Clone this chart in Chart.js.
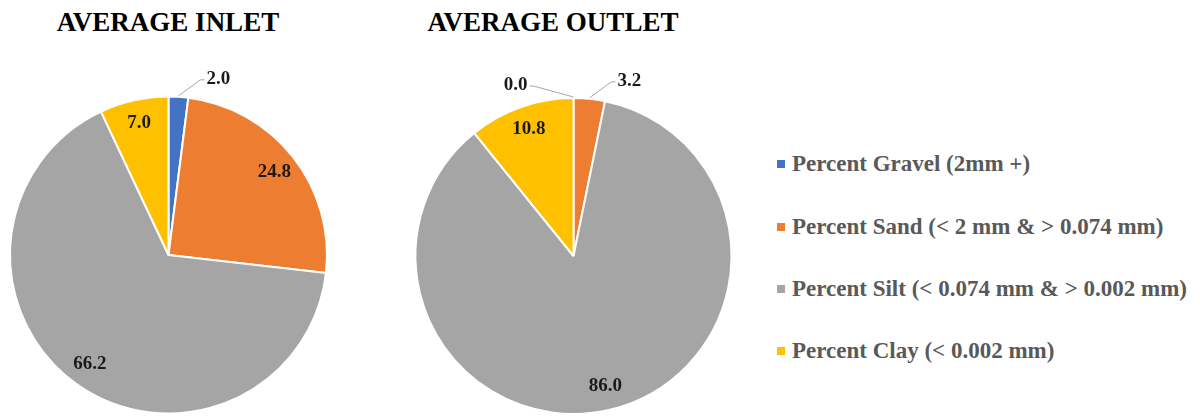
<!DOCTYPE html>
<html>
<head>
<meta charset="utf-8">
<script src="https://cdn.jsdelivr.net/npm/chart.js@4.4.1/dist/chart.umd.min.js"></script>
<style>
  html, body { margin: 0; padding: 0; background: #fff; }
  #wrap { position: relative; width: 1200px; height: 418px; overflow: hidden; font-family: "Liberation Serif", "Times New Roman", serif; }
  .box { position: absolute; top: 0; }
  .title { position: absolute; top: 7px; font-weight: bold; font-size: 27px; color: #000; white-space: nowrap; transform: translateX(-50%); }
  #legend { position: absolute; left: 777px; top: 0; }
  .leg-item { position: absolute; left: 0; white-space: nowrap; font-weight: bold; font-size: 23px; color: #595959; transform: translateY(-50%); }
  .leg-item i { display: inline-block; width: 8px; height: 8px; margin-right: 7px; vertical-align: middle; position: relative; top: -2px; }
</style>
</head>
<body>
<div id="wrap">
  <div class="title" style="left:168px;">AVERAGE INLET</div>
  <div class="title" style="left:553px;">AVERAGE OUTLET</div>
  <div class="box" style="left:0;width:390px;height:418px;"><canvas id="chart-inlet"></canvas></div>
  <div class="box" style="left:395px;width:370px;height:418px;"><canvas id="chart-outlet"></canvas></div>
  <div id="legend"></div>
</div>
<script>
const categories = [
  'Percent Gravel (2mm +)',
  'Percent Sand (< 2 mm & > 0.074 mm)',
  'Percent Silt (< 0.074 mm & > 0.002 mm)',
  'Percent Clay (< 0.002 mm)'
];
const inletValues = [2.0, 24.8, 66.2, 7.0];
const outletValues = [0.0, 3.2, 86.0, 10.8];
const sliceColors = ['#4472C4', '#ED7D31', '#A5A5A5', '#FFC000'];

// draws value labels: inside for big slices, outside with a leader line for small ones
const sliceLabels = {
  id: 'sliceLabels',
  afterDatasetsDraw(chart) {
    const ctx = chart.ctx;
    const meta = chart.getDatasetMeta(0);
    const vals = chart.data.datasets[0].data;
    ctx.save();
    ctx.font = 'bold 19px "Liberation Serif", "Times New Roman", serif';
    ctx.fillStyle = '#1a1a1a';
    ctx.textBaseline = 'middle';
    meta.data.forEach((arc, i) => {
      const p = arc.getProps(['x', 'y', 'startAngle', 'endAngle', 'outerRadius'], true);
      const mid = (p.startAngle + p.endAngle) / 2;
      const txt = vals[i].toFixed(1);
      if (vals[i] >= 5) {
        const r = p.outerRadius * 0.85;
        ctx.textAlign = 'center';
        ctx.fillText(txt, p.x + Math.cos(mid) * r, p.y + Math.sin(mid) * r);
        return;
      }
      const side = vals[i] === 0 ? -1 : 1;
      const ex = p.x + Math.cos(mid) * (p.outerRadius + 1);
      const ey = p.y + Math.sin(mid) * (p.outerRadius + 1);
      const lx = ex + side * (side > 0 ? 22 : 40);
      const ly = ey - (side > 0 ? 16 : 11);
      ctx.strokeStyle = '#a6a6a6';
      ctx.lineWidth = 1;
      ctx.beginPath();
      ctx.moveTo(ex, ey);
      ctx.lineTo(lx, ly);
      ctx.lineTo(lx + side * 4, ly);
      ctx.stroke();
      ctx.textAlign = side > 0 ? 'left' : 'right';
      ctx.fillText(txt, lx + side * 6, ly - 1);
    });
    ctx.restore();
  }
};

function buildPie(id, values, padding) {
  return new Chart(document.getElementById(id), {
    type: 'pie',
    data: {
      labels: categories,
      datasets: [{
        data: values,
        backgroundColor: sliceColors,
        borderColor: '#ffffff',
        borderWidth: 2
      }]
    },
    options: {
      responsive: true,
      maintainAspectRatio: false,
      animation: false,
      layout: { padding },
      plugins: { legend: { display: false }, tooltip: { enabled: false } }
    },
    plugins: [sliceLabels]
  });
}

buildPie('chart-inlet', inletValues, { left: 9, top: 95, right: 390 - 328, bottom: 3 });
buildPie('chart-outlet', outletValues, { left: 414 - 395, top: 97, right: 370 - (733 - 395), bottom: 3 });

const legendTops = [164, 227, 289, 351];
document.getElementById('legend').innerHTML = categories.map((c, i) =>
  `<div class="leg-item" style="top:${legendTops[i]}px;"><i style="background:${sliceColors[i]}"></i>${c.replace(/</g, '&lt;').replace(/>/g, '&gt;')}</div>`
).join('');
</script>
</body>
</html>
